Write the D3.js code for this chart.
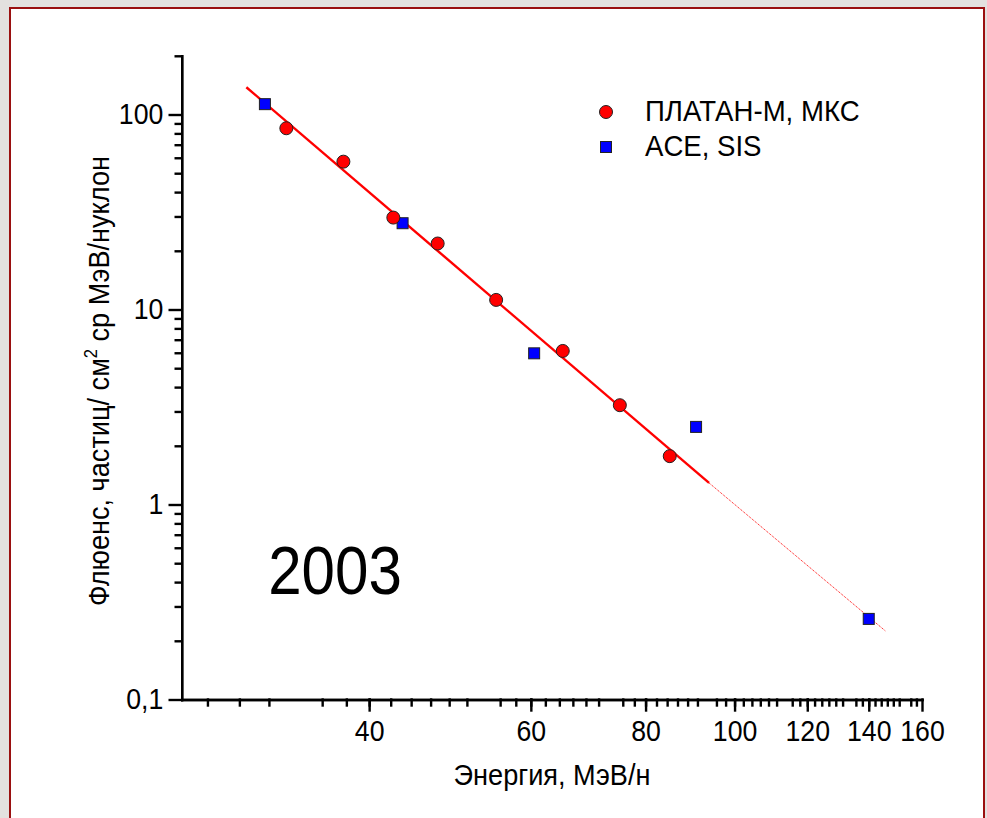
<!DOCTYPE html>
<html>
<head>
<meta charset="utf-8">
<script src="https://cdn.jsdelivr.net/npm/d3@7"></script>
<style>
  html, body { margin: 0; padding: 0; }
  body { background: #e3e1df; }
  svg { display: block; }
</style>
</head>
<body>
<script>
// ПЛАТАН-М, МКС
const platanE = [32.5, 37.5, 42.5, 47.5, 55, 65, 75, 85]
const platanF = [85, 57.3, 29.6, 21.8, 11.2, 6.13, 3.23, 1.77]

// ACE, SIS
const aceE = [30.8, 43.5, 60.5, 90.8, 140]
const aceF = [113, 27.7, 5.96, 2.5, 0.259]

// fit line (solid part, then dotted extrapolation)
const fitE = [29.4, 93.8]
const fitF = [138, 1.29]
const extE = [93.8, 146]
const extF = [1.29, 0.2245]

const xMajor = [40, 60, 80, 100, 120, 140, 160]
const yMajor = [0.1, 1, 10, 100]
const yLabels = ["0,1", "1", "10", "100"]

const legendNames = ["ПЛАТАН-М, МКС", "ACE, SIS"]

function setCanvas(w, h) {
    return d3.select("body")
    .append("svg")
        .attr("width", w)
        .attr("height", h)
}

function pairs(xs, ys) {
    return xs.map((x, i) => [x, ys[i]])
}

function drawFrame(svg, w, h, a) {
    svg.append("rect")
        .attr("width", w).attr("height", h)
        .attr("fill", a.frame.outer)
    svg.append("rect")
        .attr("x", 10).attr("y", 8)
        .attr("width", w - 13).attr("height", h + 20)
        .attr("fill", "white")
        .attr("stroke", a.frame.stroke)
        .attr("stroke-width", 2)
}

function drawAxes(svg, x, y, a) {
    // origin puts 8 minor ticks between majors (step 20/9)
    const xMinor = d3.range(-6, 54)
        .map(i => 40 + i * 20 / 9)
        .filter((v, i) => v > 25.5 && v < 160 && (i + 6) % 9 !== 0)
    const yMinor = []
    for (const dec of [0.1, 1, 10, 100]) {
        for (let k = 2; k <= 9; k++) {
            if (dec * k <= 200) yMinor.push(dec * k)
        }
    }

    const gx = svg.append("g")
        .attr("transform", `translate(0,${y.range()[0]})`)
    gx.append("g")
        .call(d3.axisBottom(x).tickValues(xMinor).tickSize(6).tickSizeOuter(0).tickFormat(""))
    gx.append("g")
        .call(d3.axisBottom(x).tickValues(xMajor).tickSize(11).tickSizeOuter(0).tickPadding(10)
            .tickFormat(d3.format("d")))

    const gy = svg.append("g")
        .attr("transform", `translate(${x.range()[0]},0)`)
    gy.append("g")
        .call(d3.axisLeft(y).tickValues(yMinor).tickSize(6).tickSizeOuter(0).tickFormat(""))
    gy.append("g")
        .call(d3.axisLeft(y).tickValues(yMajor).tickSize(12).tickSizeOuter(0).tickPadding(8)
            .tickFormat((d, i) => yLabels[i]))

    svg.selectAll(".domain, .tick line")
        .attr("stroke", a.axis.stroke)
        .attr("stroke-width", a.axis.width)
        .attr("stroke-linecap", "square")
    svg.selectAll(".tick text")
        .attr("fill", a.axis.stroke)
        .style("font-family", a.text.family)
        .style("font-size", a.text.tick + "px")
        .attr("transform", `scale(${a.text.sx},1)`)
}

function label(svg, px, py, str, size, a, rot) {
    const g = svg.append("g")
        .attr("transform", `translate(${px},${py}) rotate(${rot || 0}) scale(${a.text.sx},1)`)
    return g.append("text")
        .attr("text-anchor", "middle")
        .style("font-family", a.text.family)
        .style("font-size", size + "px")
        .attr("fill", "black")
        .text(str)
}

function drawData(svg, x, y, a) {
    const line = d3.line().x(d => x(d[0])).y(d => y(d[1]))

    svg.append("path")
        .attr("d", line(pairs(extE, extF)))
        .attr("fill", "none")
        .attr("stroke", a.red)
        .attr("stroke-width", 1)
        .attr("stroke-dasharray", "1,1")
    svg.append("path")
        .attr("d", line(pairs(fitE, fitF)))
        .attr("fill", "none")
        .attr("stroke", a.red)
        .attr("stroke-width", 2.4)

    const s = a.node.square
    svg.append("g")
    .selectAll("rect")
        .data(pairs(aceE, aceF))
        .join("rect")
            .attr("x", d => x(d[0]) - s / 2)
            .attr("y", d => y(d[1]) - s / 2)
            .attr("width", s).attr("height", s)
            .attr("fill", a.blue)
            .attr("stroke", a.node.stroke)
            .attr("stroke-width", 1)

    svg.append("g")
    .selectAll("circle")
        .data(pairs(platanE, platanF))
        .join("circle")
            .attr("cx", d => x(d[0]))
            .attr("cy", d => y(d[1]))
            .attr("r", a.node.r)
            .attr("fill", a.red)
            .attr("stroke", a.node.stroke)
            .attr("stroke-width", 1)
}

function drawLegend(svg, a) {
    svg.append("circle")
        .attr("cx", 606).attr("cy", 112).attr("r", a.node.r)
        .attr("fill", a.red).attr("stroke", a.node.stroke)
    const s = a.node.square
    svg.append("rect")
        .attr("x", 606 - s / 2).attr("y", 147 - s / 2)
        .attr("width", s).attr("height", s)
        .attr("fill", a.blue).attr("stroke", a.node.stroke)
    legendNames.forEach((n, i) => {
        label(svg, 645, 121 + i * 34.5, n, a.text.legend, a)
            .attr("text-anchor", "start")
    })
}

draw()

function draw() {
    const w = 987
    const h = 818
    const a = {
        red:  "#ff0000",
        blue: "#0000ff",
        frame: { outer: "#e3e1df", stroke: "#9a1010" },
        axis: { stroke: "#000000", width: 2.4 },
        node: { r: 6.5, square: 11, stroke: "#222222" },
        text: {
            family: "'Liberation Sans', Arial, sans-serif",
            sx: 0.92,
            tick: 29,
            title: 29.5,
            legend: 30,
        },
    }

    const x = d3.scaleLog().domain([25, 160]).range([181.7, 922])
    const y = d3.scaleLog().domain([0.1, 200]).range([699.5, 55.8])

    const svg = setCanvas(w, h)
    drawFrame(svg, w, h, a)
    drawAxes(svg, x, y, a)
    drawData(svg, x, y, a)
    drawLegend(svg, a)

    label(svg, 552, 785, "Энергия, МэВ/н", a.text.title, a)

    const yt = label(svg, 109, 381, "Флюенс, частиц/ см", a.text.title, a, -90)
    yt.append("tspan").attr("dy", -12).style("font-size", "18px").text("2")
    yt.append("tspan").attr("dy", 12).text(" ср МэВ/нуклон")

    label(svg, 335, 594, "2003", 68, a).attr("transform", "scale(0.96,1)")
}
</script>
</body>
</html>
